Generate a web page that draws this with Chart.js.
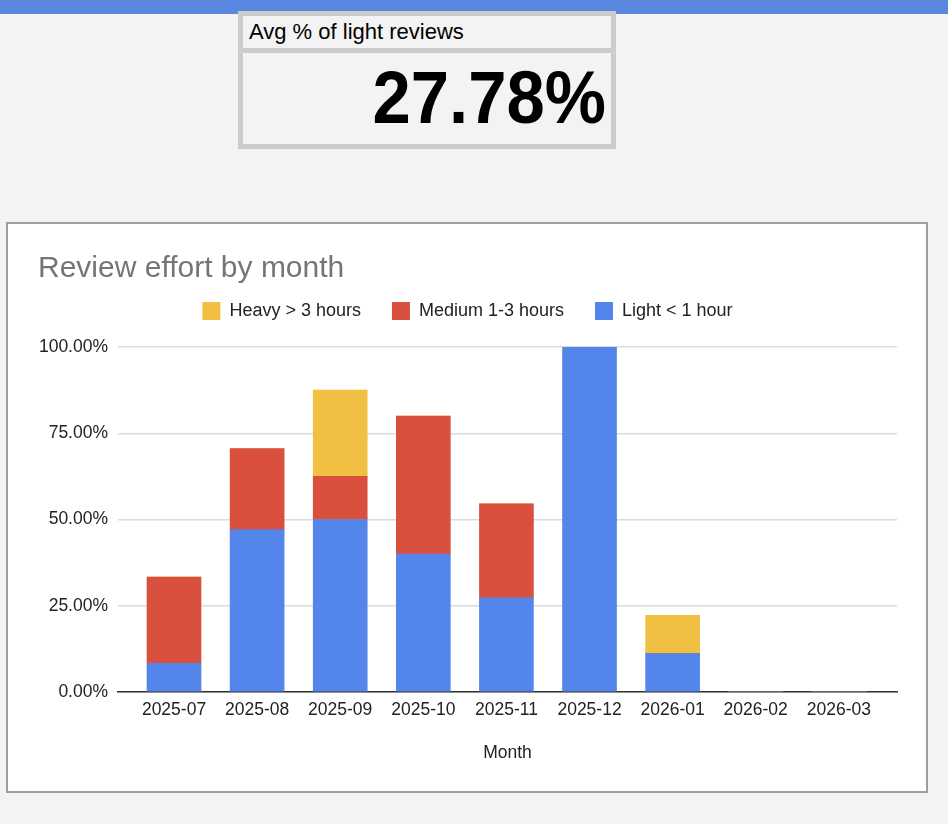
<!DOCTYPE html>
<html>
<head>
<meta charset="utf-8">
<script src="https://cdn.jsdelivr.net/npm/chart.js@4/dist/chart.umd.min.js"></script>
<style>
  html, body { margin: 0; padding: 0; background: #f3f3f3; width: 948px; height: 824px; overflow: hidden; font-family: "Liberation Sans", Arial, sans-serif; }
  #topbar { position: absolute; left: 0; top: 0; width: 948px; height: 14px; background: #5987e0; }
  #score { position: absolute; left: 238px; top: 11px; width: 378px; height: 138px; box-sizing: border-box; border: 5px solid #cccccc; background: #f3f3f3; }
  #score .hdr { height: 32px; line-height: 32px; font-size: 22px; color: #000; padding-left: 6px; border-bottom: 5px solid #cccccc; white-space: nowrap; }
  #score .val { height: 91px; line-height: 90px; font-size: 74px; font-weight: bold; color: #000; text-align: right; padding-right: 5px; white-space: nowrap; }
  #score .val span { display: inline-block; transform: scaleX(0.93); transform-origin: right center; }
  #box { position: absolute; left: 6px; top: 222px; width: 922px; height: 571px; box-sizing: border-box; border: 2px solid #9e9e9e; background: #ffffff; }
  #wrap { position: absolute; left: 0; top: 0; width: 918px; height: 567px; }
</style>
</head>
<body>
<div id="topbar"></div>
<div id="score">
  <div class="hdr">Avg % of light reviews</div>
  <div class="val"><span>27.78%</span></div>
</div>
<div id="box"><div id="wrap"><canvas id="c"></canvas></div></div>
<script>
const months = ['2025-07', '2025-08', '2025-09', '2025-10', '2025-11', '2025-12', '2026-01', '2026-02', '2026-03'];
const lightValues = [8.33, 47.06, 50.00, 40.00, 27.27, 100.00, 11.11, 0, 0];
const mediumValues = [25.00, 23.53, 12.50, 40.00, 27.27, 0, 0, 0, 0];
const heavyValues = [0, 0, 25.00, 0, 0, 0, 11.11, 0, 0];
const yTicks = [0, 25, 50, 75, 100];

const FONT = '"Liberation Sans", Arial, sans-serif';

const legendSpacer = {
  id: 'legendSpacer',
  beforeLayout(chart) {
    const lg = chart.legend;
    if (lg && !lg._spacerPatched) {
      const f = lg.fit;
      lg.fit = function () { f.apply(this, arguments); this.height += 17; };
      lg._spacerPatched = true;
    }
  }
};

new Chart(document.getElementById('c'), {
  type: 'bar',
  data: {
    labels: months,
    datasets: [
      { label: 'Light < 1 hour', data: lightValues, backgroundColor: '#5385ea', borderWidth: 0 },
      { label: 'Medium 1-3 hours', data: mediumValues, backgroundColor: '#d9503f', borderWidth: 0 },
      { label: 'Heavy > 3 hours', data: heavyValues, backgroundColor: '#f1bf42', borderWidth: 0 }
    ]
  },
  options: {
    responsive: true,
    maintainAspectRatio: false,
    animation: false,
    devicePixelRatio: 1,
    layout: { padding: { left: 30, right: 29, top: 0, bottom: 0 } },
    barThickness: 54,
    plugins: {
      tooltip: { enabled: false },
      title: {
        display: true,
        text: 'Review effort by month',
        align: 'start',
        color: '#757575',
        font: { family: FONT, size: 30, weight: 'normal' },
        padding: { top: 27, bottom: -16 }
      },
      legend: {
        display: true,
        position: 'top',
        reverse: true,
        labels: {
          boxWidth: 18,
          boxHeight: 18,
          padding: 31,
          color: '#222222',
          font: { family: FONT, size: 18 }
        }
      }
    },
    scales: {
      x: {
        stacked: true,
        afterBuildTicks(scale) {
          scale._startValue = -0.674;
          scale._valueRange = 9.374;
        },
        grid: { display: false, drawTicks: false },
        border: { display: true, color: '#333333', width: 1.5 },
        ticks: { color: '#222222', font: { family: FONT, size: 17.5 }, padding: 8, maxRotation: 0, autoSkip: false },
        title: { display: true, text: 'Month', color: '#222222', font: { family: FONT, size: 17.5 }, padding: { top: 13.5, bottom: 27.5 } }
      },
      y: {
        stacked: true,
        min: 0,
        max: 100,
        afterFit(scale) { scale.width = 80; },
        afterBuildTicks(scale) { scale.ticks = yTicks.map(v => ({ value: v })); },
        grid: { color: '#dcdcdc', lineWidth: 1.5, drawTicks: false },
        border: { display: false },
        ticks: {
          color: '#222222',
          font: { family: FONT, size: 17.5 },
          padding: 10,
          callback: v => Number(v).toFixed(2) + '%'
        }
      }
    }
  },
  plugins: [legendSpacer]
});
</script>
</body>
</html>
